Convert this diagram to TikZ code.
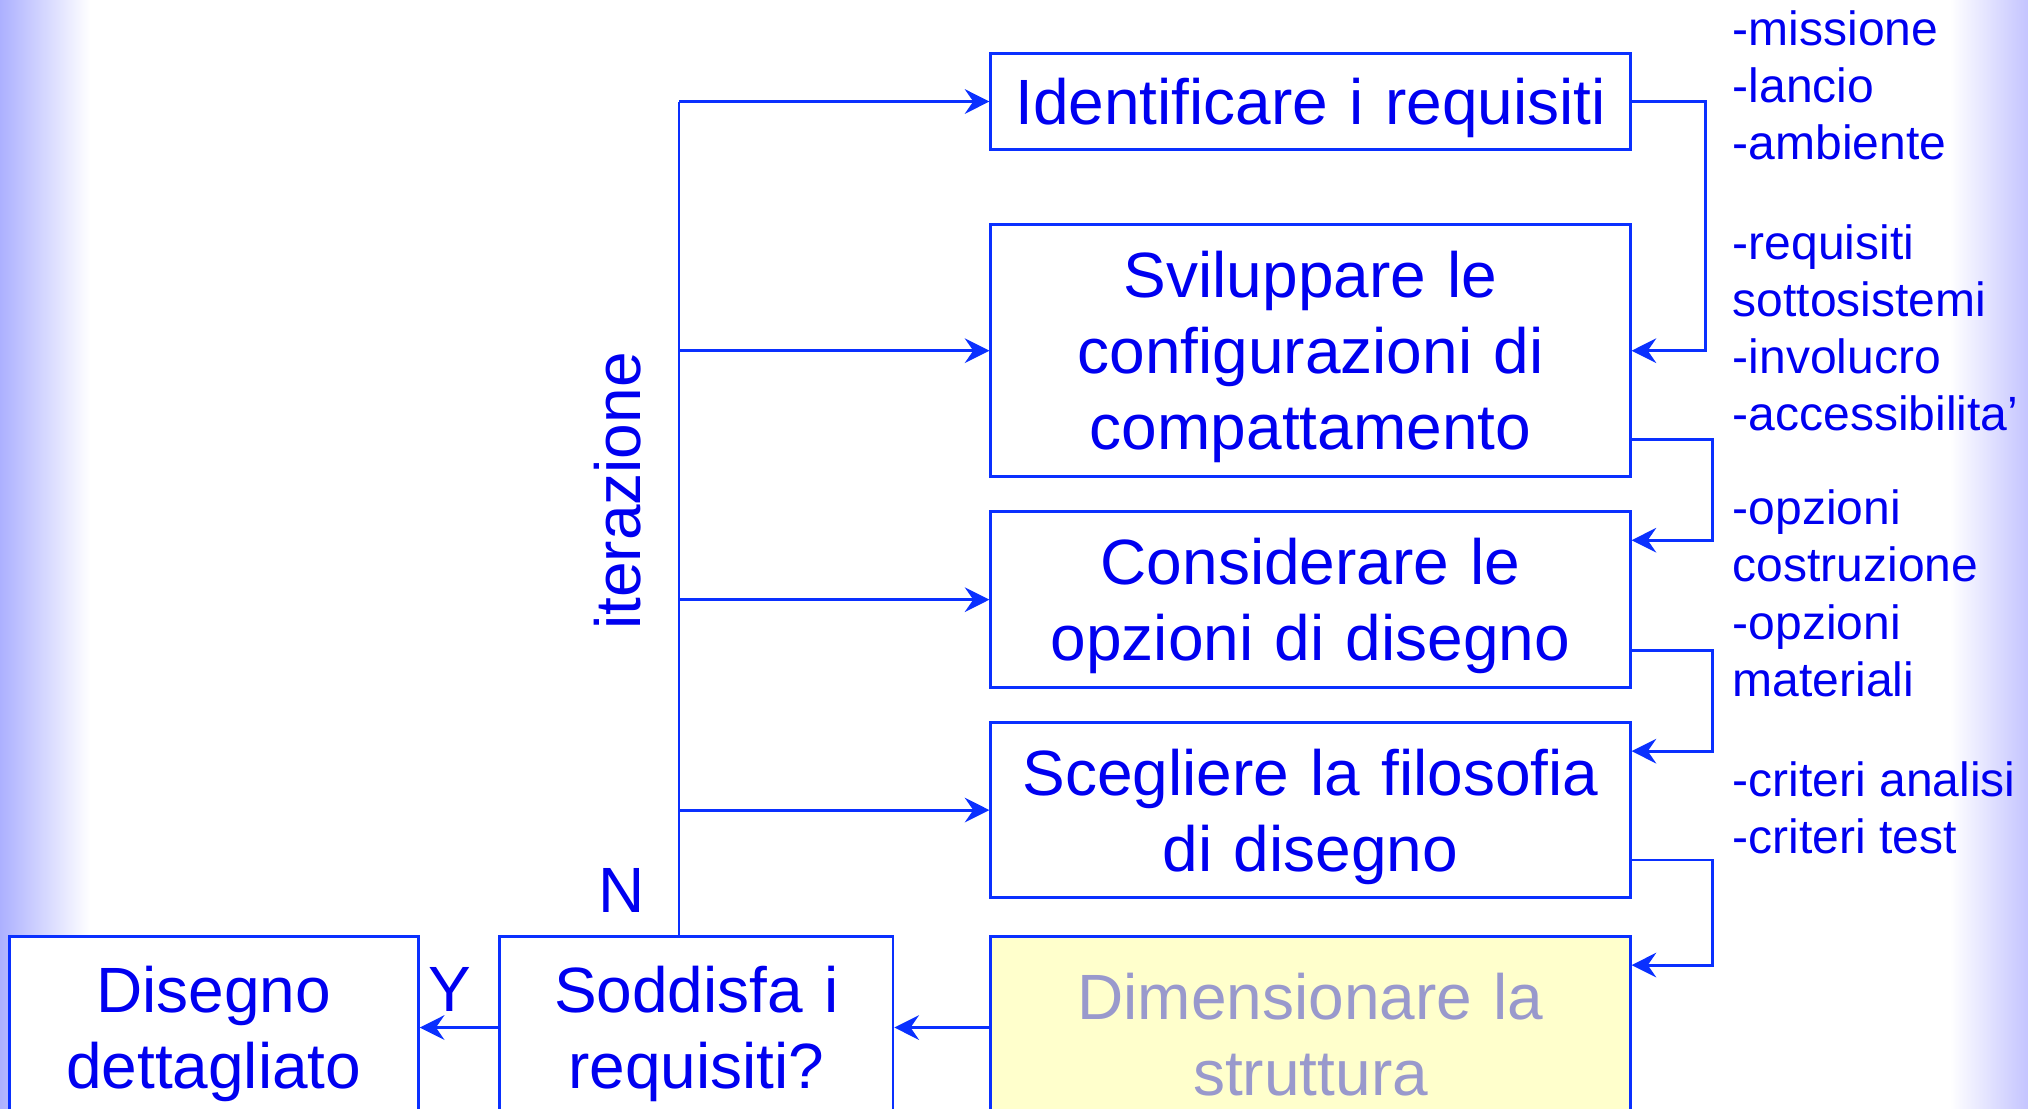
\documentclass[tikz,border=0pt]{standalone}
\usepackage{fontspec}
\setmainfont{Liberation Sans}
\usepackage{tikz}
\usetikzlibrary{arrows.meta,positioning}
\definecolor{lineblue}{HTML}{0A30FF}
\definecolor{textblue}{HTML}{0000F0}
\definecolor{dimtext}{HTML}{9999CC}
\definecolor{dimfill}{HTML}{FFFFCC}
\definecolor{edgeleft}{HTML}{ACB0FF}
\definecolor{edgeright}{HTML}{C4C4FF}
\tikzset{
  every node/.style={
    text=textblue
  },
  phase/.style={
    shape=rectangle,
    draw=lineblue,
    line width=0.8pt,
    fill=white,
    text width=6.39cm,
    minimum height=#1,
    inner xsep=0pt,
    align=center,
    execute at begin node={\rule{0pt}{17pt}},
    font=\fontsize{18.2}{21.6}\selectfont
  },
  sizing/.style={
    phase=1.82cm,
    fill=dimfill,
    text=dimtext
  },
  tag/.style={
    inner sep=0pt,
    font=\fontsize{18.2}{21.6}\selectfont
  },
  note/.style={
    anchor=west,
    inner sep=0pt,
    align=left,
    font=\fontsize{13.66}{16.2}\selectfont
  },
  link/.style={
    draw=lineblue,
    line width=0.8pt,
    -{Stealth[length=7pt,width=7pt,inset=2.4pt]}
  }
}
\begin{document}
\begin{tikzpicture}[x=0.01cm,y=-0.01cm]
\useasboundingbox (0,0) rectangle (2028,1108);
\clip (0,0) rectangle (2028,1108);
\fill[white] (0,0) rectangle (2028,1108);
\shade[left color=edgeleft, right color=white] (0,0) rectangle (90,1108);
\shade[left color=white, right color=edgeright] (1950,0) rectangle (2028,1108);

% main chain
\node [phase=0.95cm] (b1) at (1310.5,101.5) {Identificare i requisiti};
\node [phase=2.52cm, below=0.72cm of b1] (b2) {Sviluppare le\\configurazioni di\\compattamento};
\node [phase=1.76cm, below=0.32cm of b2] (b3) {Considerare le\\opzioni di disegno};
\node [phase=1.75cm, below=0.32cm of b3] (b4) {Scegliere la filosofia\\di disegno};
\node [sizing, below=0.36cm of b4] (b5) {Dimensionare la\\struttura};
\node [phase=1.82cm, text width=3.93cm, left=0.95cm of b5] (sod) {Soddisfa i\\requisiti?};
\node [phase=1.82cm, text width=4.09cm, left=0.785cm of sod] (dis) {Disegno\\dettagliato};

% labels
\node [tag, rotate=90] (iter) at (618,491) {iterazione};
\node [tag] (no) at (622,890) {N};
\node [tag] (yes) at (450,989) {Y};

% notes
\node [note] (n1) at (1732,85) {-missione\\-lancio\\-ambiente};
\node [note] (n2) at (1732,328) {-requisiti\\sottosistemi\\-involucro\\-accessibilita’};
\node [note] (n3) at (1732,536) {-opzioni\\costruzione};
\node [note] (n4) at (1732,651) {-opzioni\\materiali};
\node [note] (n5) at (1732,808) {-criteri analisi\\-criteri test};

% iteration loop
\coordinate (itbot) at (679,935);
\draw [draw=lineblue, line width=0.8pt] (itbot) -- (itbot |- b1.west);
\foreach \b in {b1,b2,b3,b4}
  \draw [link] (itbot |- \b.west) -- (\b.west);

% right side
\draw [link] (b1.east) -- ++(0.74cm,0) |- (b2.east);
\foreach \u/\l in {b2/b3,b3/b4,b4/b5}
  \draw [link] ([yshift=0.39cm]\u.south east) -- ++(0.81cm,0) |- ([yshift=-0.3cm]\l.north east);

% bottom
\draw [link] (b5.west) -- (sod.east);
\draw [link] (sod.west) -- (dis.east);
\end{tikzpicture}
\end{document}
